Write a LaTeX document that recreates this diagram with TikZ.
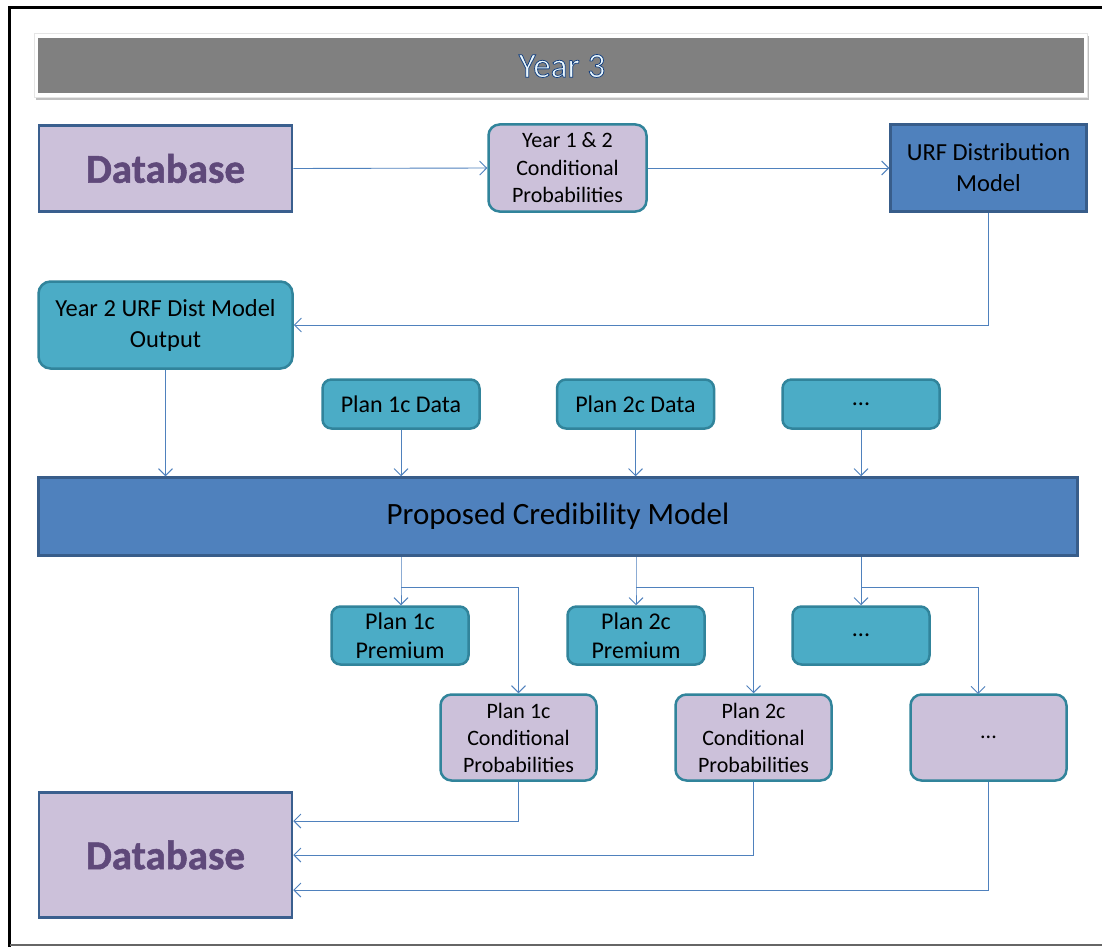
\documentclass[tikz,border=0pt]{standalone}
\usepackage{fontspec}
\setmainfont{Carlito}
\newfontfamily\titlefont[FakeBold=2.2]{Carlito}
\newfontfamily\dbfont[FakeBold=1.2]{Carlito}
\usetikzlibrary{arrows.meta,positioning}
\definecolor{lav}{HTML}{CCC1DA}
\definecolor{lavborder}{HTML}{3A5F8E}
\definecolor{tealfill}{HTML}{4BACC6}
\definecolor{tealborder}{HTML}{31849B}
\definecolor{bluefill}{HTML}{4F81BD}
\definecolor{blueborder}{HTML}{385D8A}
\definecolor{arrowblue}{HTML}{4F81BD}
\definecolor{dbtext}{HTML}{5F497A}
\definecolor{titleblue}{HTML}{1F4E8C}
\tikzset{
  base/.style={inner sep=0pt, align=center, text=black, line width=2.5pt},
  dbbox/.style={base, rectangle, fill=lav, draw=lavborder, minimum width=253pt, font=\dbfont\fontsize{41}{42}\selectfont\bfseries},
  lavround/.style={base, rectangle, rounded corners=11pt, fill=lav, draw=tealborder, minimum width=156pt, minimum height=86pt},
  tealround/.style={base, rectangle, rounded corners=9pt, fill=tealfill, draw=tealborder},
  bluebox/.style={base, rectangle, fill=bluefill, draw=blueborder},
  arr/.style={draw=arrowblue, line width=0.9pt, -{Straight Barb[length=7pt,width=14pt,line width=0.9pt]}},
}
\begin{document}
\begin{tikzpicture}[x=1pt,y=-1pt]
\useasboundingbox (0,0) rectangle (1102,947);
\fill[white] (0,0) rectangle (1102,947);
% frame
\draw[line width=3pt, black] (9.5,947) -- (9.5,8) -- (1102,8);
\draw[line width=1.2pt, black!60] (9.5,945) -- (1102,945);
% title bar
\fill[black!25] (36,36) rectangle (1089,100);
\fill[white] (34,33) rectangle (1087,97);
\draw[black!10, line width=0.6pt] (34,33) rectangle (1087,97);
\fill[black!50] (38,38) rectangle (1084,93);
\node[inner sep=0pt, font=\titlefont\fontsize{35}{36}\selectfont] (title) at (562,66)
  {\color{white!92!cyan}\special{pdf:code 0.08 0.25 0.5 RG}Year 3};

% nodes
\node[dbbox, minimum height=86pt] (db1) at (165.5,168.5) {\textcolor{dbtext}{Database}};
\node[lavround, minimum width=158pt, minimum height=87pt, font=\fontsize{22}{27.5}\selectfont] (y12) at (567.5,168) {Year 1 \& 2\\Conditional\\Probabilities};
\node[bluebox, minimum width=196pt, minimum height=87pt, font=\fontsize{24.5}{31}\selectfont] (urf) at (988.5,168) {URF Distribution\\Model};
\node[tealround, rounded corners=12pt, minimum width=254pt, minimum height=87pt, font=\fontsize{24.5}{31}\selectfont] (y2) at (165.5,325) {Year 2 URF Dist Model\\Output};

\node[tealround, minimum width=157pt, minimum height=49pt, font=\fontsize{24}{29}\selectfont] (p1d) at (401,404) {Plan 1c Data};
\node[tealround, minimum width=157pt, minimum height=49pt, font=\fontsize{24}{29}\selectfont] (p2d) at (635.5,404) {Plan 2c Data};
\node[tealround, minimum width=157pt, minimum height=49pt, font=\fontsize{24}{29}\selectfont] (p3d) at (861,404) {...};

\node[bluebox, minimum width=1039pt, minimum height=78pt, font=\fontsize{31}{34}\selectfont] (pcm) at (558,516.5) {Proposed Credibility Model};

\node[tealround, minimum width=137pt, minimum height=58pt, font=\fontsize{24}{29}\selectfont] (p1p) at (400,635.5) {Plan 1c\\Premium};
\node[tealround, minimum width=137pt, minimum height=58pt, font=\fontsize{24}{29}\selectfont] (p2p) at (636,635.5) {Plan 2c\\Premium};
\node[tealround, minimum width=137pt, minimum height=58pt, font=\fontsize{24}{29}\selectfont] (p3p) at (861,635.5) {...};

\node[lavround, font=\fontsize{22}{27}\selectfont] (p1c) at (518.5,737.5) {Plan 1c\\Conditional\\Probabilities};
\node[lavround, font=\fontsize{22}{27}\selectfont] (p2c) at (753.5,737.5) {Plan 2c\\Conditional\\Probabilities};
\node[lavround, font=\fontsize{22}{27}\selectfont] (p3c) at (988.5,737.5) {...};

\node[dbbox, minimum height=125pt] (db2) at (165.5,855) {\textcolor{dbtext}{Database}};

% coordinates
\coordinate (b1) at (401,587);
\coordinate (b2) at (636,587);
\coordinate (b3) at (861,587);

% connectors
\draw[arr] (db1.east) -- (y12.west);
\draw[arr] (y12.east) -- (urf.west);
\draw[arr] (urf.south) |- (y2.east);
\draw[arr] (y2.south) -- (y2.south |- pcm.north);
\draw[arr] (p1d.south) -- (p1d.south |- pcm.north);
\draw[arr] (p2d.south) -- (p2d.south |- pcm.north);
\draw[arr] (p3d.south) -- (p3d.south |- pcm.north);

\draw[arr] (pcm.south -| b1) -- (b1) -- (b1 |- p1p.north);
\draw[arr] (b1) -| (p1c.north);
\draw[arr] (pcm.south -| b2) -- (b2) -- (b2 |- p2p.north);
\draw[arr] (b2) -| (p2c.north);
\draw[arr] (pcm.south -| b3) -- (b3) -- (b3 |- p3p.north);
\draw[arr] (b3) -- (978,587) -- (978,694);

\draw[arr] (p1c.south) |- (db2.east |- 0,821);
\draw[arr] (p2c.south) |- (db2.east |- 0,855);
\draw[arr] (p3c.south) |- (db2.east |- 0,890);
\end{tikzpicture}
\end{document}
